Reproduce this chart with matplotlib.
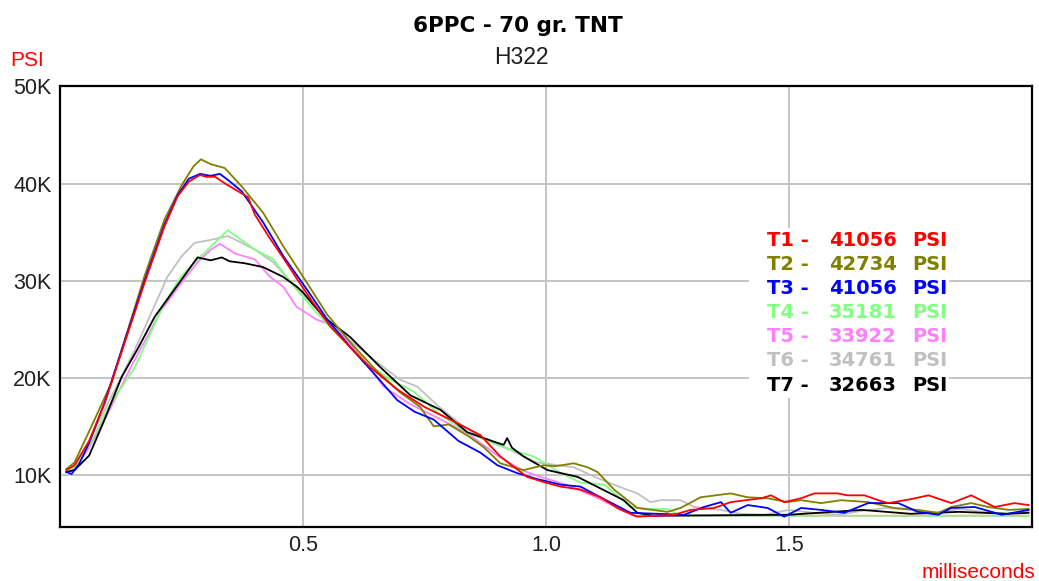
import matplotlib
matplotlib.use("Agg")
import matplotlib.pyplot as plt
from matplotlib.patches import Rectangle

# ---------------- data (time in ms, pressure in K psi) ----------------
t1 = [0.013, 0.03, 0.06, 0.092, 0.133, 0.174, 0.215, 0.242, 0.265, 0.288, 0.30, 0.319, 0.34, 0.36, 0.387, 0.401,
      0.43, 0.46, 0.49, 0.52, 0.556, 0.60, 0.638, 0.694, 0.75, 0.803, 0.865, 0.906, 0.961, 1.0, 1.03, 1.071, 1.112,
      1.15, 1.188, 1.263, 1.298, 1.346, 1.38, 1.443, 1.463, 1.49, 1.525, 1.552, 1.6, 1.62, 1.655, 1.684, 1.704,
      1.75, 1.787, 1.834, 1.875, 1.923, 1.964, 1.993]
p1 = [10.5, 11.0, 13.5, 17.4, 23.6, 29.8, 35.6, 38.7, 40.2, 40.9, 40.7, 40.7, 40.0, 39.4, 38.6, 36.8,
      34.5, 32.3, 30.0, 27.8, 25.3, 23.0, 21.1, 18.8, 17.0, 15.7, 14.1, 11.9, 9.8, 9.2, 8.8, 8.5, 7.7,
      6.5, 5.7, 5.9, 6.4, 6.6, 7.2, 7.6, 7.9, 7.2, 7.6, 8.1, 8.1, 7.9, 7.9, 7.4, 7.1,
      7.5, 7.9, 7.1, 7.9, 6.7, 7.1, 6.9]

t2 = [0.013, 0.03, 0.06, 0.106, 0.14, 0.174, 0.215, 0.25, 0.275, 0.290, 0.31, 0.325, 0.339, 0.374, 0.418, 0.46,
      0.508, 0.55, 0.60, 0.65, 0.70, 0.741, 0.769, 0.80, 0.84, 0.871, 0.906, 0.954, 0.995, 1.02, 1.057, 1.085,
      1.106, 1.14, 1.188, 1.25, 1.277, 1.318, 1.38, 1.415, 1.456, 1.497, 1.525, 1.566, 1.607, 1.663, 1.716,
      1.765, 1.807, 1.834, 1.875, 1.91, 1.952, 1.993]
p2 = [10.6, 11.3, 14.5, 19.5, 25.0, 30.5, 36.3, 39.8, 41.8, 42.5, 42.0, 41.8, 41.6, 39.7, 37.0, 33.5,
      29.8, 26.5, 23.5, 20.8, 18.5, 17.0, 15.0, 15.2, 14.0, 12.9, 11.2, 10.5, 11.0, 10.9, 11.2, 10.8,
      10.3, 8.5, 6.6, 6.2, 6.6, 7.7, 8.1, 7.7, 7.6, 7.2, 7.4, 7.1, 7.4, 7.2, 6.6,
      6.4, 6.1, 6.7, 7.1, 6.7, 6.4, 6.5]

t3 = [0.013, 0.024, 0.04, 0.06, 0.092, 0.133, 0.174, 0.215, 0.242, 0.265, 0.288, 0.31, 0.329, 0.35, 0.374, 0.418,
      0.46, 0.508, 0.55, 0.60, 0.645, 0.694, 0.73, 0.769, 0.82, 0.865, 0.90, 0.940, 0.98, 1.03, 1.071, 1.112,
      1.174, 1.284, 1.325, 1.36, 1.38, 1.415, 1.456, 1.49, 1.525, 1.566, 1.614, 1.643, 1.663, 1.725, 1.765,
      1.807, 1.834, 1.882, 1.938, 1.993]
p3 = [10.3, 10.1, 11.2, 13.3, 17.5, 23.8, 30.0, 35.8, 38.8, 40.5, 41.0, 40.8, 41.0, 40.2, 39.2, 36.0,
      32.5, 29.1, 26.0, 23.0, 20.5, 17.7, 16.5, 15.7, 13.5, 12.3, 11.0, 10.2, 9.6, 9.0, 8.8, 7.7,
      6.1, 5.9, 6.7, 7.2, 6.1, 6.9, 6.6, 5.7, 6.6, 6.4, 6.1, 6.7, 7.1, 7.1, 6.2,
      5.9, 6.6, 6.7, 5.9, 6.4]

t4 = [0.013, 0.03, 0.06, 0.10, 0.154, 0.215, 0.25, 0.283, 0.31, 0.345, 0.37, 0.401, 0.439, 0.48, 0.528, 0.58,
      0.63, 0.68, 0.727, 0.78, 0.84, 0.892, 0.94, 0.975, 1.03, 1.071, 1.12, 1.174, 1.209, 1.25, 1.277, 1.5, 1.993]
p4 = [10.4, 10.8, 13.0, 17.0, 21.1, 27.7, 30.5, 32.2, 33.5, 35.2, 34.3, 33.2, 32.2, 29.5, 26.7, 24.0,
      21.5, 19.8, 18.6, 16.3, 14.3, 13.3, 12.4, 11.9, 10.2, 9.2, 9.0, 6.7, 6.5, 6.5, 5.8, 5.8, 5.8]

t5 = [0.013, 0.03, 0.06, 0.10, 0.15, 0.209, 0.25, 0.283, 0.31, 0.329, 0.36, 0.401, 0.432, 0.459, 0.487, 0.528,
      0.556, 0.590, 0.63, 0.666, 0.72, 0.78, 0.838, 0.90, 0.95, 0.989, 1.04, 1.09, 1.14, 1.18, 1.993]
p5 = [10.3, 10.7, 12.8, 16.5, 21.5, 27.0, 29.8, 31.9, 33.2, 33.8, 32.8, 32.2, 30.4, 29.4, 27.3, 26.0,
      25.5, 23.9, 21.5, 19.1, 17.3, 15.8, 14.3, 12.0, 10.5, 9.8, 9.0, 8.0, 6.8, 5.8, 5.8]

t6 = [0.013, 0.03, 0.06, 0.10, 0.154, 0.221, 0.25, 0.277, 0.31, 0.345, 0.37, 0.401, 0.439, 0.48, 0.53, 0.58,
      0.645, 0.70, 0.735, 0.78, 0.83, 0.88, 0.93, 0.98, 1.057, 1.10, 1.15, 1.188, 1.215, 1.236, 1.277, 1.305,
      1.36, 1.40, 1.45, 1.50, 1.55, 1.60, 1.65, 1.70, 1.75, 1.80, 1.85, 1.90, 1.95, 1.993]
p6 = [10.4, 11.0, 13.5, 17.5, 22.9, 30.4, 32.5, 33.9, 34.2, 34.6, 34.0, 33.2, 31.9, 29.6, 27.0, 24.5,
      21.9, 19.8, 19.1, 17.0, 15.0, 13.5, 12.5, 11.3, 10.8, 9.8, 8.8, 8.1, 7.2, 7.4, 7.4, 6.7,
      6.4, 6.0, 5.9, 6.4, 6.1, 5.9, 6.3, 6.6, 6.4, 6.0, 6.5, 6.2, 6.0, 6.2]

t7 = [0.013, 0.03, 0.06, 0.09, 0.127, 0.16, 0.195, 0.25, 0.283, 0.31, 0.333, 0.349, 0.38, 0.418, 0.459, 0.487,
      0.5, 0.542, 0.597, 0.659, 0.721, 0.783, 0.838, 0.90, 0.913, 0.92, 0.93, 0.954, 1.003, 1.065, 1.16, 1.188,
      1.22, 1.5, 1.65, 1.75, 1.85, 1.95, 1.993]
p7 = [10.3, 10.5, 12.0, 15.5, 20.1, 23.0, 26.3, 30.1, 32.4, 32.1, 32.4, 32.0, 31.8, 31.4, 30.4, 29.4,
      28.8, 26.3, 24.2, 21.1, 18.2, 16.7, 14.4, 13.3, 13.1, 13.8, 12.8, 11.9, 10.5, 9.8, 7.4, 6.1,
      5.8, 5.9, 6.4, 6.0, 6.2, 6.0, 6.1]

labels = ["T1", "T2", "T3", "T4", "T5", "T6", "T7"]
peaks = [41056, 42734, 41056, 35181, 33922, 34761, 32663]
colors = ["#ff0000", "#808000", "#0000ff", "#80ff80", "#ff80ff", "#c0c0c0", "#000000"]
series_t = [t1, t2, t3, t4, t5, t6, t7]
series_p = [p1, p2, p3, p4, p5, p6, p7]

x_ticks = [0.5, 1.0, 1.5]
x_ticklabels = ["0.5", "1.0", "1.5"]
y_ticks = [10, 20, 30, 40, 50]
y_ticklabels = ["10K", "20K", "30K", "40K", "50K"]

# ---------------- figure ----------------
W, H = 1039, 581
fig = plt.figure(figsize=(W / 100, H / 100), dpi=100)
fig.patch.set_facecolor("white")
ax = fig.add_axes([60 / W, (H - 527) / H, (1032 - 60) / W, (527 - 86) / H])

ax.set_xlim(0, 2.0)
ax.set_ylim(4.64, 50.05)

ax.set_xticks(x_ticks)
ax.set_xticklabels(x_ticklabels)
ax.set_yticks(y_ticks)
ax.set_yticklabels(y_ticklabels)
ax.tick_params(length=0, labelsize=15.5, pad=6)
for lab in ax.get_xticklabels() + ax.get_yticklabels():
    lab.set_family("Liberation Sans")
    lab.set_color("#202020")
ax.grid(True, color="#c4c4c4", linewidth=1.4)
ax.set_axisbelow(True)
for s in ax.spines.values():
    s.set_linewidth(1.6)
    s.set_color("black")

order = [5, 4, 3, 6, 1, 2, 0]
for i in order:
    ax.plot(series_t[i], series_p[i], color=colors[i], linewidth=1.3, zorder=3 + order.index(i))

# legend block (white background hides grid)
def px2ax(px, py):
    return (px - 60) / (1032 - 60), (527 - py) / (527 - 86)

x0, y0 = px2ax(749, 398)
x1, y1 = px2ax(949, 228)
ax.add_patch(Rectangle((x0, y0), x1 - x0, y1 - y0, transform=ax.transAxes,
                       facecolor="white", edgecolor="none", zorder=20))
row_y0 = 240
row_dy = 24.2
for k in range(7):
    ry = row_y0 + k * row_dy
    for txt, px in [(labels[k] + " -", 767), (str(peaks[k]), 829), ("PSI", 912)]:
        xa, ya = px2ax(px, ry)
        ax.text(xa, ya, txt, transform=ax.transAxes, color=colors[k], fontsize=14,
                fontweight="bold", family="DejaVu Sans", ha="left", va="center", zorder=21)

fig.text(518 / W, 1 - 26 / H, "6PPC - 70 gr. TNT", ha="center", va="center",
         fontsize=15.5, fontweight="bold", family="DejaVu Sans", color="black")
fig.text(521 / W, 1 - 58 / H, "H322", ha="center", va="center",
         fontsize=16.5, family="Liberation Sans", color="#202020")
fig.text(10 / W, 1 - 61 / H, "PSI", ha="left", va="center",
         fontsize=15, family="Liberation Sans", color="#ff0000")
fig.text(1035 / W, 1 - 572 / H, "milliseconds", ha="right", va="center",
         fontsize=15, family="Liberation Sans", color="#ff0000")

fig.savefig("out.png", dpi=100)
